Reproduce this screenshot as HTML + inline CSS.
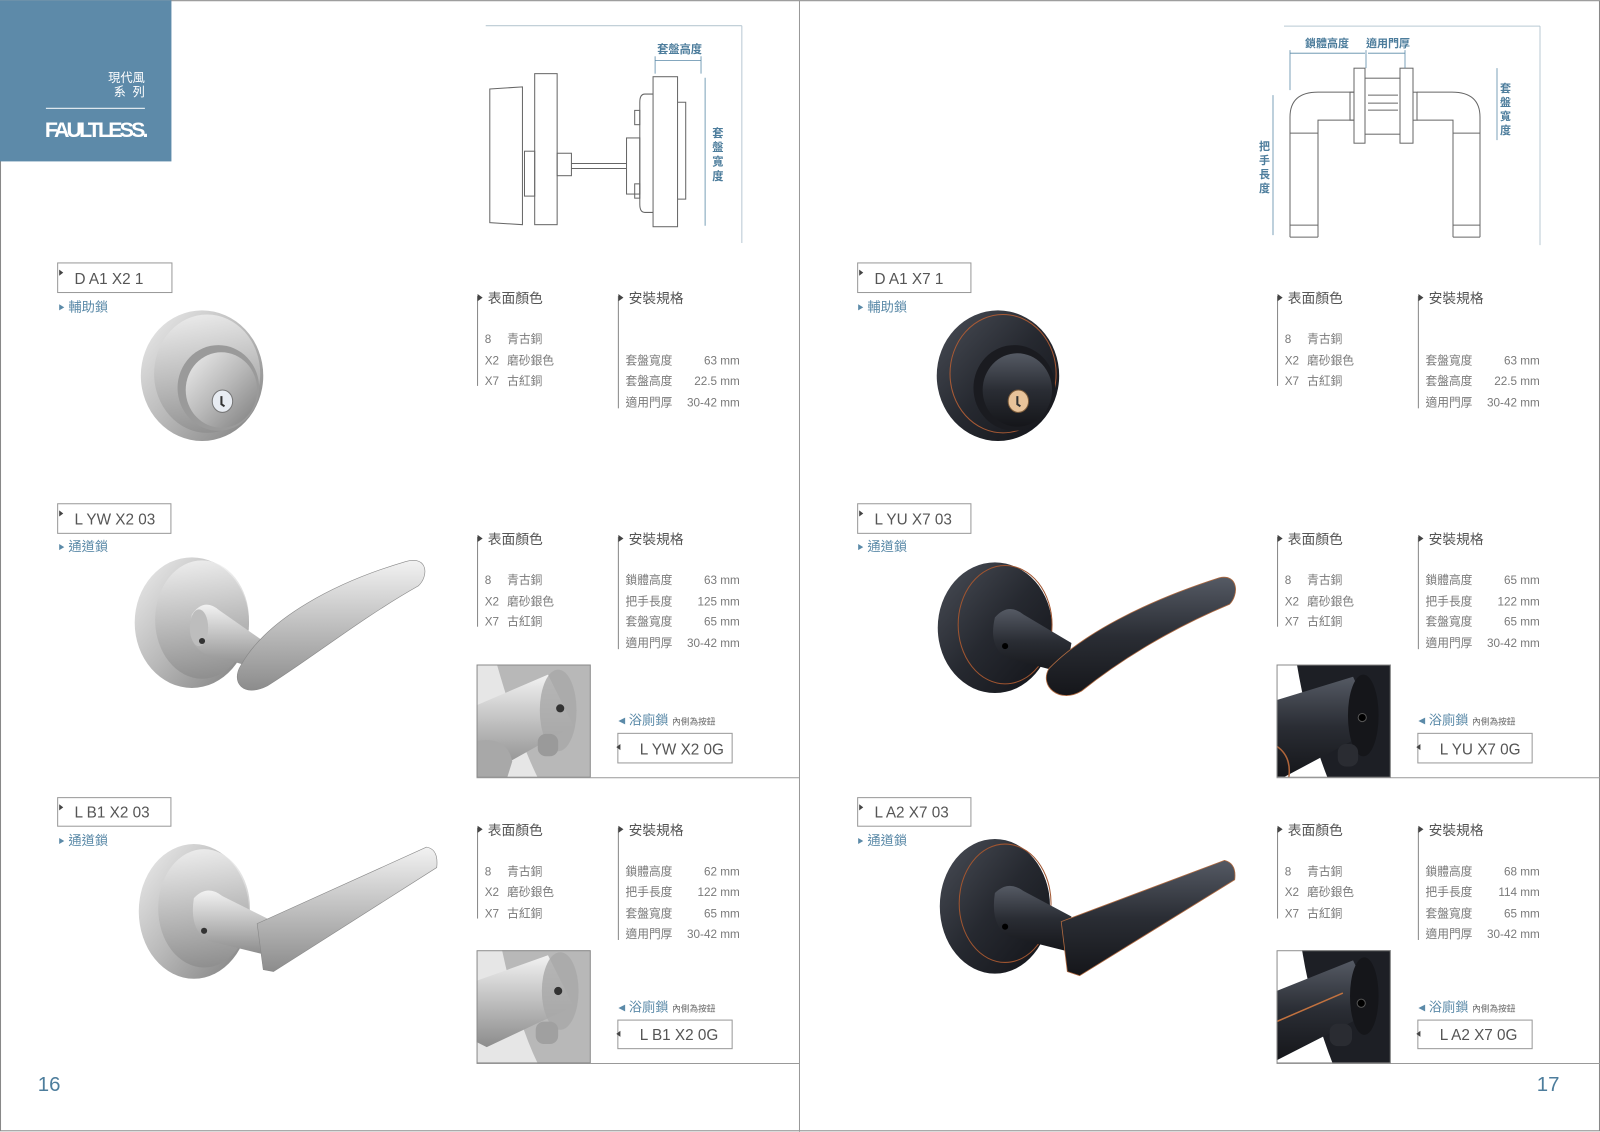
<!DOCTYPE html>
<html><head><meta charset="utf-8">
<style>
html,body{margin:0;padding:0;background:#fff;}
svg{display:block;}
text{font-family:"Liberation Sans","Noto Sans CJK TC",sans-serif;}
.lb{font-size:15px;fill:#555;font-weight:300;}
.cat{font-size:13px;fill:#5b8aa8;}
.hd{font-size:13.5px;fill:#555;}
.it{font-size:11.5px;fill:#7a7a7a;}
.dim{font-size:11px;fill:#4d7d9c;font-weight:bold;}
.ln{stroke:#666;stroke-width:1;fill:none;}
.dl{stroke:#5b8aa8;stroke-width:0.8;fill:none;}
</style></head><body>
<svg width="1600" height="1132" viewBox="0 0 1568 1109" xmlns="http://www.w3.org/2000/svg">
<defs>
<linearGradient id="m1" x1="0" y1="0" x2="1" y2="1"><stop offset="0" stop-color="#eeeeee"/><stop offset=".5" stop-color="#b9b9b9"/><stop offset="1" stop-color="#7d7d7d"/></linearGradient>
<linearGradient id="m2" x1="0" y1="0" x2="0" y2="1"><stop offset="0" stop-color="#f2f2f2"/><stop offset=".45" stop-color="#c4c4c4"/><stop offset="1" stop-color="#8c8c8c"/></linearGradient>
<linearGradient id="d1" x1="0" y1="0" x2="1" y2="1"><stop offset="0" stop-color="#4a4e57"/><stop offset=".5" stop-color="#262930"/><stop offset="1" stop-color="#121318"/></linearGradient>
<linearGradient id="d2" x1="0" y1="0" x2="0" y2="1"><stop offset="0" stop-color="#555a64"/><stop offset=".5" stop-color="#2a2d34"/><stop offset="1" stop-color="#15161a"/></linearGradient>
</defs>
<rect x="0" y="0" width="1568" height="1109" fill="#fff"/>
<rect x="0.5" y="0.5" width="1567" height="1107.5" fill="none" stroke="#888" stroke-width="1"/>
<line x1="783.5" y1="0" x2="783.5" y2="1109" stroke="#999" stroke-width="1"/>
<rect x="0" y="0" width="168" height="158" fill="#5d8aa9"/>
<text x="142" y="80" font-size="12" fill="#fff" text-anchor="end">現代風</text>
<text x="142" y="94" font-size="12" fill="#fff" text-anchor="end" xml:space="preserve">系  列</text>
<line x1="45" y1="106" x2="142" y2="106" stroke="#dde7ee" stroke-width="1.2"/>
<text x="44" y="134" font-size="21" fill="#fff" font-weight="bold" letter-spacing="-1.5" textLength="100">FAULTLESS.</text>

<g stroke="#999" stroke-width="1">
<line x1="467" y1="762" x2="783" y2="762"/><line x1="467" y1="1042" x2="783" y2="1042"/>
<line x1="1251" y1="762" x2="1568" y2="762"/><line x1="1251" y1="1042" x2="1568" y2="1042"/>
</g>

<g class="ln" stroke="#666">
<line x1="476" y1="25" x2="727" y2="25" stroke="#b9c9d3"/>
<line x1="727" y1="25" x2="727" y2="238" stroke="#b9c9d3"/>
<path d="M480,87 L512,85 L512,220 L480,218 Z"/>
<rect x="524" y="72" width="22" height="148"/>
<rect x="514" y="148" width="10" height="44"/>
<rect x="546" y="150" width="14" height="22"/>
<line x1="560" y1="160" x2="614" y2="160"/><line x1="560" y1="165" x2="614" y2="165"/>
<rect x="614" y="135" width="13" height="55"/>
<path d="M640,92 L632,92 Q627,92 627,100 L627,200 Q627,208 632,208 L640,208"/>
<rect x="640" y="75" width="24" height="147"/>
<path d="M664,100 L672,100 L672,195 L664,195"/>
<rect x="622" y="108" width="5" height="14"/><rect x="622" y="180" width="5" height="14"/>
</g>
<text x="644" y="52" class="dim">套盤高度</text>
<line x1="642" y1="59" x2="687" y2="59" class="dl"/>
<line x1="642" y1="55" x2="642" y2="72" class="dl"/><line x1="687" y1="55" x2="687" y2="72" class="dl"/>
<line x1="691" y1="76" x2="691" y2="221" class="dl"/>
<g class="dim" font-size="12.5"><text x="698" y="134">套</text><text x="698" y="148">盤</text><text x="698" y="162">寬</text><text x="698" y="176">度</text></g>

<g transform="scale(0.98)">
<line x1="1284" y1="26" x2="1540" y2="26" stroke="#b9c9d3"/>
<line x1="1540" y1="26" x2="1540" y2="245" stroke="#b9c9d3"/>
<g class="ln">
<path d="M1290,237 L1290,117 Q1290,92 1318,92 L1354,92"/>
<path d="M1318,237 L1318,120 L1354,120"/>
<line x1="1290" y1="133" x2="1318" y2="133"/><line x1="1290" y1="225" x2="1318" y2="225"/>
<line x1="1290" y1="237" x2="1318" y2="237"/>
<rect x="1350" y="92" width="4" height="28"/>
<rect x="1354" y="68" width="11" height="75"/>
<rect x="1365" y="78" width="35" height="56"/>
<line x1="1368" y1="95" x2="1398" y2="95"/><line x1="1368" y1="103" x2="1398" y2="103"/><line x1="1368" y1="110" x2="1398" y2="110"/>
<rect x="1400" y="68" width="13" height="75"/>
<rect x="1413" y="92" width="4" height="28"/>
<path d="M1480,237 L1480,117 Q1480,92 1452,92 L1417,92"/>
<path d="M1453,237 L1453,120 L1417,120"/>
<line x1="1453" y1="133" x2="1480" y2="133"/><line x1="1453" y1="225" x2="1480" y2="225"/>
<line x1="1453" y1="237" x2="1480" y2="237"/>
</g>
<text x="1305" y="47" class="dim" font-size="11.5">鎖體高度</text>
<text x="1366" y="47" class="dim" font-size="11.5">適用門厚</text>
<line x1="1290" y1="53" x2="1365" y2="53" class="dl"/><line x1="1368" y1="53" x2="1405" y2="53" class="dl"/>
<line x1="1290" y1="50" x2="1290" y2="90" class="dl"/><line x1="1366" y1="50" x2="1366" y2="68" class="dl"/><line x1="1405" y1="50" x2="1405" y2="68" class="dl"/>
<line x1="1273" y1="95" x2="1273" y2="235" class="dl"/>
<g class="dim" font-size="12.5"><text x="1259" y="150">把</text><text x="1259" y="164">手</text><text x="1259" y="178">長</text><text x="1259" y="192">度</text></g>
<line x1="1497" y1="68" x2="1497" y2="140" class="dl"/>
<g class="dim" font-size="12.5"><text x="1500" y="92">套</text><text x="1500" y="106">盤</text><text x="1500" y="120">寬</text><text x="1500" y="134">度</text></g>
</g>

<rect x="56.5" y="257.5" width="112" height="29" fill="none" stroke="#999"/>
<path d="M58,264 l4,3 l-4,3z" fill="#444"/>
<text x="73" y="278" class="lb" xml:space="preserve">D A1 X2 1</text>
<path d="M58,298 l5,3 l-5,3z" fill="#5b8aa8"/><text x="67" y="305" class="cat">輔助鎖</text>
<rect x="840.5" y="257.5" width="111" height="29" fill="none" stroke="#999"/>
<path d="M842,264 l4,3 l-4,3z" fill="#444"/>
<text x="857" y="278" class="lb" xml:space="preserve">D A1 X7 1</text>
<path d="M841,298 l5,3 l-5,3z" fill="#5b8aa8"/><text x="850" y="305" class="cat">輔助鎖</text>

<rect x="56.5" y="493.5" width="111" height="29" fill="none" stroke="#999"/>
<path d="M58,500 l4,3 l-4,3z" fill="#444"/>
<text x="73" y="514" class="lb" xml:space="preserve">L YW X2 03</text>
<path d="M58,533 l5,3 l-5,3z" fill="#5b8aa8"/><text x="67" y="540" class="cat">通道鎖</text>
<rect x="840.5" y="493.5" width="111" height="29" fill="none" stroke="#999"/>
<path d="M842,500 l4,3 l-4,3z" fill="#444"/>
<text x="857" y="514" class="lb" xml:space="preserve">L YU X7 03</text>
<path d="M841,533 l5,3 l-5,3z" fill="#5b8aa8"/><text x="850" y="540" class="cat">通道鎖</text>

<rect x="56.5" y="781.5" width="111" height="28" fill="none" stroke="#999"/>
<path d="M58,788 l4,3 l-4,3z" fill="#444"/>
<text x="73" y="801" class="lb" xml:space="preserve">L B1 X2 03</text>
<path d="M58,821 l5,3 l-5,3z" fill="#5b8aa8"/><text x="67" y="828" class="cat">通道鎖</text>
<rect x="840.5" y="781.5" width="111" height="28" fill="none" stroke="#999"/>
<path d="M842,788 l4,3 l-4,3z" fill="#444"/>
<text x="857" y="801" class="lb" xml:space="preserve">L A2 X7 03</text>
<path d="M841,821 l5,3 l-5,3z" fill="#5b8aa8"/><text x="850" y="828" class="cat">通道鎖</text>

<g id="specA">
<line x1="468" y1="290" x2="468" y2="378" stroke="#888"/>
<line x1="606" y1="290" x2="606" y2="400" stroke="#888"/>
<path d="M468,288 l5,3.5 l-5,3.5z" fill="#444"/><text x="478" y="297" class="hd">表面顏色</text>
<path d="M606,288 l5,3.5 l-5,3.5z" fill="#444"/><text x="616" y="297" class="hd">安裝規格</text>
<text x="475" y="336" class="it">8</text><text x="497" y="336" class="it">青古銅</text>
<text x="475" y="357" class="it">X2</text><text x="497" y="357" class="it">磨砂銀色</text>
<text x="475" y="377" class="it">X7</text><text x="497" y="377" class="it">古紅銅</text>
</g>
<text x="613" y="357" class="it">套盤寬度</text><text x="725" y="357" class="it" text-anchor="end">63 mm</text>
<text x="613" y="377" class="it">套盤高度</text><text x="725" y="377" class="it" text-anchor="end">22.5 mm</text>
<text x="613" y="398" class="it">適用門厚</text><text x="725" y="398" class="it" text-anchor="end">30-42 mm</text>
<use href="#specA" x="784" y="0"/>
<text x="1397" y="357" class="it">套盤寬度</text><text x="1509" y="357" class="it" text-anchor="end">63 mm</text>
<text x="1397" y="377" class="it">套盤高度</text><text x="1509" y="377" class="it" text-anchor="end">22.5 mm</text>
<text x="1397" y="398" class="it">適用門厚</text><text x="1509" y="398" class="it" text-anchor="end">30-42 mm</text>

<g id="specB">
<line x1="468" y1="526" x2="468" y2="614" stroke="#888"/>
<line x1="606" y1="526" x2="606" y2="636" stroke="#888"/>
<path d="M468,524 l5,3.5 l-5,3.5z" fill="#444"/><text x="478" y="533" class="hd">表面顏色</text>
<path d="M606,524 l5,3.5 l-5,3.5z" fill="#444"/><text x="616" y="533" class="hd">安裝規格</text>
<text x="475" y="572" class="it">8</text><text x="497" y="572" class="it">青古銅</text>
<text x="475" y="593" class="it">X2</text><text x="497" y="593" class="it">磨砂銀色</text>
<text x="475" y="613" class="it">X7</text><text x="497" y="613" class="it">古紅銅</text>
<text x="613" y="572" class="it">鎖體高度</text><text x="613" y="593" class="it">把手長度</text>
<text x="613" y="613" class="it">套盤寬度</text><text x="613" y="634" class="it">適用門厚</text>
<text x="725" y="634" class="it" text-anchor="end">30-42 mm</text>
<text x="606" y="710" font-size="13" fill="#5b8aa8">◂ 浴廁鎖 <tspan font-size="8.5" fill="#666">內側為按鈕</tspan></text>
<rect x="605.5" y="718.5" width="112" height="29" fill="none" stroke="#999"/>
<path d="M608,729 l-4,3 l4,3z" fill="#444"/>
</g>
<g id="specC">
<line x1="468" y1="811" x2="468" y2="900" stroke="#888"/>
<line x1="606" y1="811" x2="606" y2="921" stroke="#888"/>
<path d="M468,809 l5,3.5 l-5,3.5z" fill="#444"/><text x="478" y="818" class="hd">表面顏色</text>
<path d="M606,809 l5,3.5 l-5,3.5z" fill="#444"/><text x="616" y="818" class="hd">安裝規格</text>
<text x="475" y="858" class="it">8</text><text x="497" y="858" class="it">青古銅</text>
<text x="475" y="878" class="it">X2</text><text x="497" y="878" class="it">磨砂銀色</text>
<text x="475" y="899" class="it">X7</text><text x="497" y="899" class="it">古紅銅</text>
<text x="613" y="858" class="it">鎖體高度</text><text x="613" y="878" class="it">把手長度</text>
<text x="613" y="899" class="it">套盤寬度</text><text x="613" y="919" class="it">適用門厚</text>
<text x="725" y="919" class="it" text-anchor="end">30-42 mm</text>
<text x="606" y="991" font-size="13" fill="#5b8aa8">◂ 浴廁鎖 <tspan font-size="8.5" fill="#666">內側為按鈕</tspan></text>
<rect x="605.5" y="999.5" width="112" height="28" fill="none" stroke="#999"/>
<path d="M608,1010 l-4,3 l4,3z" fill="#444"/>
</g>
<use href="#specB" x="784" y="0"/>
<use href="#specC" x="784" y="0"/>

<g class="it" text-anchor="end">
<text x="725" y="572">63 mm</text><text x="725" y="593">125 mm</text><text x="725" y="613">65 mm</text>
<text x="725" y="858">62 mm</text><text x="725" y="878">122 mm</text><text x="725" y="899">65 mm</text>
<text x="1509" y="572">65 mm</text><text x="1509" y="593">122 mm</text><text x="1509" y="613">65 mm</text>
<text x="1509" y="858">68 mm</text><text x="1509" y="878">114 mm</text><text x="1509" y="899">65 mm</text>
</g>
<g class="lb" font-size="15" xml:space="preserve">
<text x="627" y="739">L YW X2 0G</text>
<text x="627" y="1019">L B1 X2 0G</text>
<text x="1411" y="739">L YU X7 0G</text>
<text x="1411" y="1019">L A2 X7 0G</text>
</g>

<text x="37" y="1069" font-size="20" fill="#4d7d9c">16</text>
<text x="1506" y="1069" font-size="20" fill="#4d7d9c">17</text>

<!-- Left deadbolt -->
<ellipse cx="198" cy="368" rx="60" ry="64" fill="url(#m1)"/>
<ellipse cx="203" cy="366" rx="52" ry="58" fill="url(#m2)" opacity=".7"/>
<ellipse cx="214" cy="380" rx="40" ry="42" fill="#9a9a9a"/>
<ellipse cx="217" cy="382" rx="35" ry="37" fill="url(#m1)"/>
<ellipse cx="218" cy="393" rx="10" ry="11" fill="#e8ecf2" stroke="#777"/>
<path d="M217,388 l0,8 l3,2" stroke="#333" stroke-width="2" fill="none"/>
<!-- Right deadbolt -->
<ellipse cx="978" cy="368" rx="60" ry="64" fill="url(#d1)"/>
<ellipse cx="983" cy="366" rx="52" ry="58" fill="none" stroke="#a85a35" stroke-width="1"/>
<ellipse cx="994" cy="380" rx="40" ry="42" fill="#1a1b20"/>
<ellipse cx="997" cy="382" rx="34" ry="36" fill="url(#d2)"/>
<ellipse cx="998" cy="393" rx="10" ry="11" fill="#e8c39a" stroke="#7a5a3a"/>
<path d="M997,388 l0,8 l3,2" stroke="#333" stroke-width="2" fill="none"/>

<!-- Left lever B -->
<ellipse cx="188" cy="610" rx="56" ry="64" fill="url(#m1)"/>
<ellipse cx="198" cy="607" rx="46" ry="58" fill="url(#m2)" opacity=".8"/>
<path d="M188,602 Q200,585 215,598 L258,628 L252,655 L200,640 Q182,630 188,602Z" fill="url(#m2)"/>
<ellipse cx="195" cy="615" rx="9" ry="18" fill="#bdbdbd"/>
<circle cx="198" cy="628" r="3" fill="#333"/>
<path d="M236,652 C262,605 330,570 398,550 C420,544 420,565 410,574 C355,605 305,645 262,672 C238,684 226,668 236,652Z" fill="url(#m2)" stroke="#888" stroke-width=".6"/>
<!-- Right lever B -->
<ellipse cx="975" cy="615" rx="56" ry="64" fill="url(#d1)"/>
<ellipse cx="985" cy="612" rx="46" ry="58" fill="none" stroke="#a05530" stroke-width="1"/>
<path d="M975,605 Q988,590 1003,602 L1050,630 L1045,660 L988,645 Q968,635 975,605Z" fill="url(#d2)"/>
<circle cx="985" cy="633" r="3" fill="#000"/>
<path d="M1028,655 C1060,622 1120,590 1195,566 C1214,562 1214,583 1205,592 C1150,615 1100,645 1060,677 C1038,690 1018,672 1028,655Z" fill="url(#d2)" stroke="#b06a40" stroke-width=".8"/>

<!-- Left lever C -->
<ellipse cx="190" cy="893" rx="54" ry="66" fill="url(#m1)"/>
<ellipse cx="200" cy="890" rx="45" ry="58" fill="url(#m2)" opacity=".8"/>
<path d="M190,880 Q203,866 218,878 L262,900 L258,935 L205,922 Q185,912 190,880Z" fill="url(#m2)"/>
<circle cx="200" cy="912" r="3" fill="#333"/>
<path d="M252,905 L418,830 Q430,832 428,850 L268,952 L258,950 Z" fill="url(#m2)" stroke="#888" stroke-width=".6"/>
<!-- Right lever C -->
<ellipse cx="975" cy="888" rx="54" ry="66" fill="url(#d1)"/>
<ellipse cx="985" cy="885" rx="45" ry="58" fill="none" stroke="#a05530" stroke-width="1"/>
<path d="M975,875 Q988,862 1003,873 L1050,898 L1046,932 L990,918 Q970,908 975,875Z" fill="url(#d2)"/>
<circle cx="985" cy="908" r="3" fill="#000"/>
<path d="M1040,903 L1200,843 Q1212,846 1210,862 L1058,956 L1046,952 Z" fill="url(#d2)" stroke="#b06a40" stroke-width=".8"/>

<svg x="467" y="651" width="112" height="111" viewBox="0 0 112 111">
<rect width="112" height="111" fill="#e6e6e6"/>
<path d="M20,0 L112,0 L112,111 L60,111 Q40,70 20,0Z" fill="#b8b8b8"/>
<path d="M0,40 L70,10 L95,60 L15,105 L0,100Z" fill="url(#m2)"/>
<ellipse cx="80" cy="45" rx="18" ry="40" fill="#a8a8a8" opacity=".8"/>
<circle cx="82" cy="43" r="4" fill="#333"/>
<rect x="60" y="68" width="20" height="22" rx="8" fill="#9a9a9a"/>
<path d="M0,75 Q30,70 35,95 L30,111 L0,111Z" fill="#a8a8a8"/>
<rect x=".5" y=".5" width="111" height="110" fill="none" stroke="#888"/>
</svg>
<svg x="467" y="931" width="112" height="111" viewBox="0 0 112 111">
<rect width="112" height="111" fill="#e6e6e6"/>
<path d="M25,0 L112,0 L112,111 L60,111 Q40,70 25,0Z" fill="#b8b8b8"/>
<path d="M0,30 L70,5 L95,55 L10,95 L0,90Z" fill="url(#m2)"/>
<ellipse cx="82" cy="40" rx="18" ry="38" fill="#a8a8a8" opacity=".8"/>
<circle cx="80" cy="40" r="4" fill="#333"/>
<rect x="58" y="70" width="22" height="22" rx="8" fill="#a0a0a0"/>
<rect x=".5" y=".5" width="111" height="110" fill="none" stroke="#888"/>
</svg>
<svg x="1251" y="651" width="112" height="111" viewBox="0 0 112 111">
<rect width="112" height="111" fill="#fff"/>
<path d="M20,0 L112,0 L112,111 L50,111 Q30,60 20,0Z" fill="#1d1f25"/>
<path d="M0,35 L75,12 L98,62 L8,110 L0,110Z" fill="url(#d2)"/>
<ellipse cx="85" cy="50" rx="15" ry="40" fill="#15161a"/>
<circle cx="84" cy="52" r="4" fill="#000" stroke="#555"/>
<rect x="60" y="78" width="20" height="22" rx="8" fill="#2a2c32"/>
<path d="M0,80 Q15,90 12,111" stroke="#b0653a" fill="none" stroke-width="1.5"/>
<rect x=".5" y=".5" width="111" height="110" fill="none" stroke="#888"/>
</svg>
<svg x="1251" y="931" width="112" height="111" viewBox="0 0 112 111">
<rect width="112" height="111" fill="#fff"/>
<path d="M25,0 L112,0 L112,111 L55,111 Q35,60 25,0Z" fill="#1d1f25"/>
<path d="M0,40 L75,10 L98,58 L0,108Z" fill="url(#d2)"/>
<path d="M0,70 L65,42" stroke="#c2723f" stroke-width="1.5"/>
<ellipse cx="86" cy="45" rx="14" ry="38" fill="#15161a"/>
<circle cx="83" cy="52" r="4" fill="#000" stroke="#555"/>
<rect x="52" y="72" width="22" height="22" rx="8" fill="#2a2c32"/>
<rect x=".5" y=".5" width="111" height="110" fill="none" stroke="#888"/>
</svg>
</svg>
</body></html>
